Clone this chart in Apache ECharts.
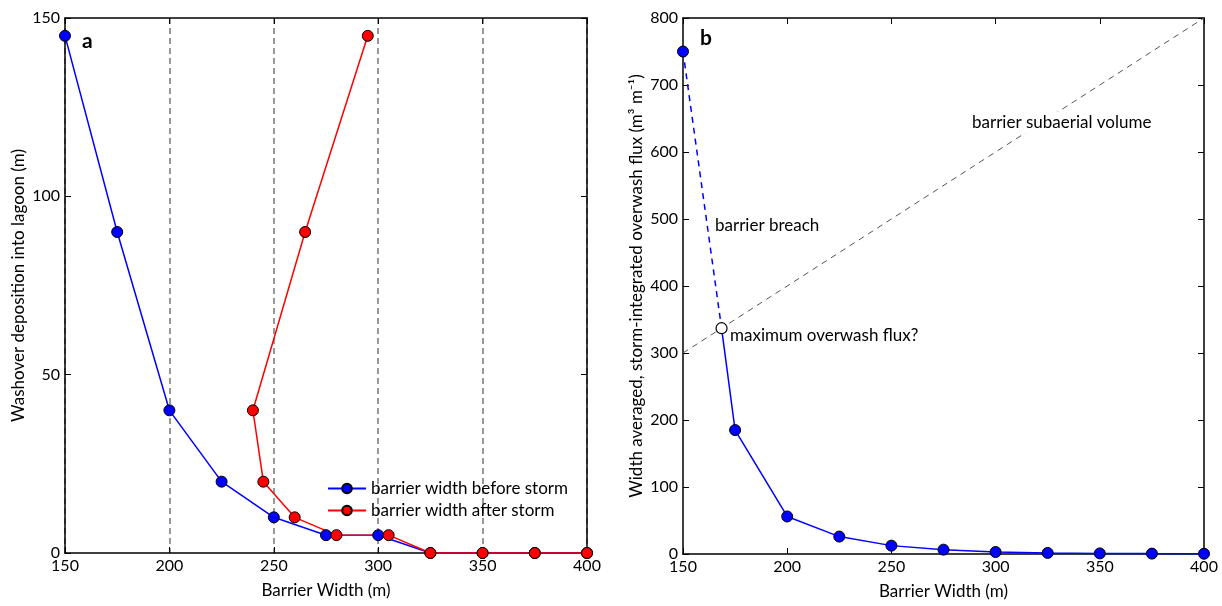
<!DOCTYPE html>
<html>
<head>
<meta charset="UTF-8">
<title>Barrier width charts</title>
<script src="https://cdn.jsdelivr.net/npm/echarts@6/dist/echarts.min.js"></script>
<style>
  body { margin: 0; background: #fff; }
  #container { width: 1222px; height: 606px; }
</style>
</head>
<body>
<div id="container"></div>
<script>
// panel a: washover deposition vs barrier width
var widthBefore = [150, 175, 200, 225, 250, 275, 300, 325, 350, 375, 400];
var depoBefore  = [145, 90, 40, 20, 10, 5, 5, 0, 0, 0, 0];
var widthAfter  = [295, 265, 240, 245, 260, 280, 305, 325, 350, 375, 400];
var depoAfter   = [145, 90, 40, 20, 10, 5, 5, 0, 0, 0, 0];

// panel b: overwash flux vs barrier width
var widthFlux = [175, 200, 225, 250, 275, 300, 325, 350, 375, 400];
var fluxVals  = [185, 56, 26, 12.5, 6.5, 3, 1.6, 0.9, 0.6, 0.4];
var breachX = [150, 168.5];
var breachY = [750, 337];
var volumeX = [150, 400];
var volumeY = [300, 800];

var xTicks = [150, 200, 250, 300, 350, 400];

var FONT = 'Lato';

function pairs(xs, ys) {
  var out = [];
  for (var i = 0; i < xs.length; i++) out.push([xs[i], ys[i]]);
  return out;
}

function xAx(grid, pos, labels, split) {
  return {
    type: 'value', gridIndex: grid, position: pos,
    min: xTicks[0], max: xTicks[xTicks.length - 1], interval: 50,
    name: labels ? 'Barrier Width (m)' : '', nameLocation: 'middle', nameGap: 29,
    nameTextStyle: { fontFamily: FONT, fontSize: 17, color: '#000' },
    axisLine: { show: true, onZero: false, lineStyle: { color: '#000', width: 1.5 } },
    axisTick: { show: true, inside: true, length: 6, lineStyle: { color: '#000', width: 1 } },
    axisLabel: { show: labels, fontFamily: FONT, fontSize: 16, color: '#000', margin: 5 },
    splitLine: { show: split, lineStyle: { color: '#777', width: 1.5, type: [6, 4] } }
  };
}

function yAx(grid, pos, labels, max, interval, name, gap) {
  return {
    type: 'value', gridIndex: grid, position: pos,
    min: 0, max: max, interval: interval,
    name: labels ? name : '', nameLocation: 'middle', nameGap: gap, nameRotate: 90,
    nameTextStyle: { fontFamily: FONT, fontSize: 17, color: '#000' },
    axisLine: { show: true, onZero: false, lineStyle: { color: '#000', width: 1.5 } },
    axisTick: { show: true, inside: true, length: 6, lineStyle: { color: '#000', width: 1 } },
    axisLabel: { show: labels, fontFamily: FONT, fontSize: 16, color: '#000', margin: 5 },
    splitLine: { show: false }
  };
}

var dot = function (color) {
  return { color: color, borderColor: '#000', borderWidth: 1 };
};

var chart = echarts.init(document.getElementById('container'));

var breachData = pairs(breachX, breachY);
breachData[1] = { value: breachData[1], symbol: 'none' };

var fluxData = [{ value: [breachX[1], breachY[1]], symbol: 'none' }].concat(pairs(widthFlux, fluxVals));

var option = {
  animation: false,
  backgroundColor: '#fff',
  grid: [
    { left: 65, right: 635, top: 18, bottom: 53 },
    { left: 683, right: 18, top: 18, bottom: 52 }
  ],
  xAxis: [
    xAx(0, 'bottom', true, true),
    xAx(0, 'top', false, false),
    xAx(1, 'bottom', true, false),
    xAx(1, 'top', false, false)
  ],
  yAxis: [
    yAx(0, 'left', true, 150, 50, 'Washover deposition into lagoon (m)', 38),
    yAx(0, 'right', false, 150, 50, '', 0),
    yAx(1, 'left', true, 800, 100, 'Width averaged, storm-integrated overwash flux (m\u00b3 m\u207b\u00b9)', 38),
    yAx(1, 'right', false, 800, 100, '', 0)
  ],
  legend: {
    left: 322, top: 475, orient: 'vertical', itemGap: 5,
    itemWidth: 38, itemHeight: 12,
    textStyle: { fontFamily: FONT, fontSize: 17, color: '#000' },
    data: ['barrier width before storm', 'barrier width after storm']
  },
  series: [
    {
      name: 'barrier width before storm', type: 'line', xAxisIndex: 0, yAxisIndex: 0,
      data: pairs(widthBefore, depoBefore), clip: false,
      symbol: 'circle', symbolSize: 11,
      lineStyle: { color: '#0000ff', width: 1.5 }, itemStyle: dot('#0000ff')
    },
    {
      name: 'barrier width after storm', type: 'line', xAxisIndex: 0, yAxisIndex: 0,
      data: pairs(widthAfter, depoAfter), clip: false,
      symbol: 'circle', symbolSize: 11,
      lineStyle: { color: '#ff0000', width: 1.5 }, itemStyle: dot('#ff0000')
    },
    {
      name: 'volume', type: 'line', xAxisIndex: 2, yAxisIndex: 2,
      data: pairs(volumeX, volumeY), symbol: 'none', silent: true,
      lineStyle: { color: '#555', width: 1, type: [6, 5] }
    },
    {
      name: 'breach', type: 'line', xAxisIndex: 2, yAxisIndex: 2,
      data: breachData, clip: false,
      symbol: 'circle', symbolSize: 11,
      lineStyle: { color: '#0000ff', width: 1.5, type: [6, 5] }, itemStyle: dot('#0000ff')
    },
    {
      name: 'flux', type: 'line', xAxisIndex: 2, yAxisIndex: 2,
      data: fluxData, clip: false,
      symbol: 'circle', symbolSize: 11,
      lineStyle: { color: '#0000ff', width: 1.5 }, itemStyle: dot('#0000ff')
    },
    {
      name: 'max', type: 'scatter', xAxisIndex: 2, yAxisIndex: 2,
      data: [[breachX[1], breachY[1]]], symbol: 'circle', symbolSize: 11, z: 5,
      itemStyle: { color: '#fff', borderColor: '#000', borderWidth: 1.2, opacity: 1 }
    }
  ],
  graphic: [
    { type: 'text', left: 82, top: 31, style: { text: 'a', font: 'bold 21px ' + FONT, fill: '#000' } },
    { type: 'text', left: 700, top: 28, style: { text: 'b', font: 'bold 21px ' + FONT, fill: '#000' } },
    { type: 'text', left: 970, top: 112, z: 100,
      style: { text: 'barrier subaerial volume', font: '17px ' + FONT, fill: '#000',
               backgroundColor: '#fff', padding: [2, 2] } },
    { type: 'text', left: 715, top: 217, style: { text: 'barrier breach', font: '17px ' + FONT, fill: '#000' } },
    { type: 'text', left: 730, top: 327, style: { text: 'maximum overwash flux?', font: '17px ' + FONT, fill: '#000' } }
  ]
};

chart.setOption(option);
</script>
</body>
</html>
